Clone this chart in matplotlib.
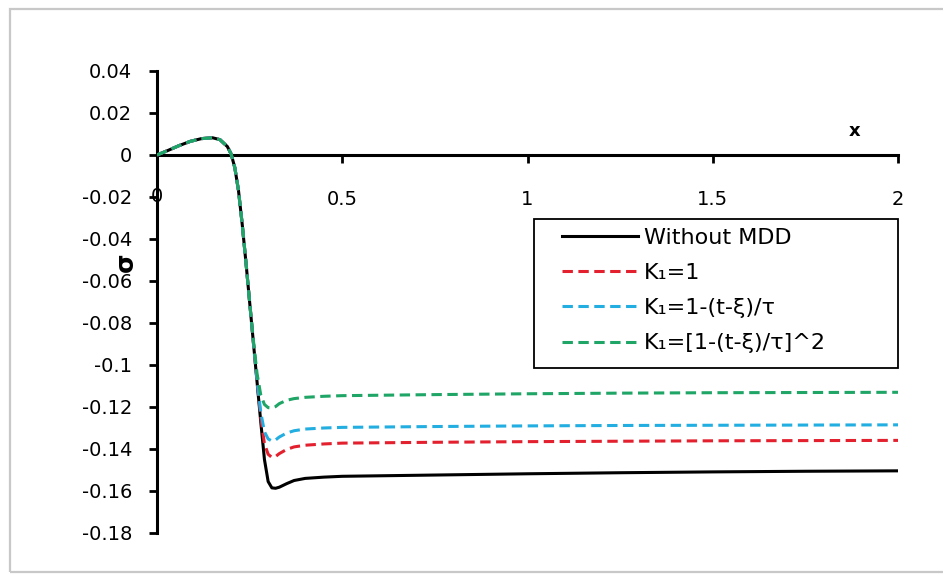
import matplotlib
matplotlib.use("Agg")
import matplotlib.pyplot as plt
from matplotlib.patches import Rectangle

# ---------------- data ----------------
x_black = [0, 0.03, 0.06, 0.09, 0.12, 0.15, 0.17, 0.19, 0.2, 0.21, 0.22, 0.23, 0.24, 0.25,
           0.26, 0.27, 0.28, 0.29, 0.30, 0.31, 0.32, 0.33, 0.35, 0.37, 0.40, 0.45, 0.5,
           0.75, 1.0, 1.25, 1.5, 1.75, 2.0]
y_black = [0, 0.0022, 0.0045, 0.0065, 0.0078, 0.0082, 0.0073, 0.0040, 0.0005, -0.0060, -0.0170,
           -0.0330, -0.0510, -0.0700, -0.0890, -0.1080, -0.1270, -0.1450, -0.1555, -0.1585,
           -0.1587, -0.1582, -0.1565, -0.1550, -0.1540, -0.1534, -0.1530, -0.1524, -0.1518,
           -0.1513, -0.1509, -0.1506, -0.1504]

x_red = [0, 0.03, 0.06, 0.09, 0.12, 0.15, 0.17, 0.19, 0.2, 0.21, 0.22, 0.23, 0.24, 0.25,
         0.26, 0.27, 0.28, 0.29, 0.30, 0.31, 0.32, 0.33, 0.35, 0.37, 0.40, 0.45, 0.5,
         0.75, 1.0, 1.25, 1.5, 1.75, 2.0]
y_red = [0, 0.0022, 0.0045, 0.0065, 0.0078, 0.0082, 0.0073, 0.0040, 0.0005, -0.0060, -0.0170,
         -0.0330, -0.0510, -0.0700, -0.0890, -0.1075, -0.1250, -0.1375, -0.1425, -0.1440,
         -0.1436, -0.1422, -0.1402, -0.1390, -0.1382, -0.1376, -0.1372, -0.1368, -0.1365,
         -0.1363, -0.1361, -0.1360, -0.1359]

x_blue = [0, 0.03, 0.06, 0.09, 0.12, 0.15, 0.17, 0.19, 0.2, 0.21, 0.22, 0.23, 0.24, 0.25,
          0.26, 0.27, 0.28, 0.29, 0.30, 0.31, 0.32, 0.33, 0.35, 0.37, 0.40, 0.45, 0.5,
          0.75, 1.0, 1.25, 1.5, 1.75, 2.0]
y_blue = [0, 0.0022, 0.0045, 0.0065, 0.0078, 0.0082, 0.0073, 0.0040, 0.0005, -0.0060, -0.0170,
          -0.0330, -0.0510, -0.0700, -0.0890, -0.1070, -0.1225, -0.1318, -0.1352, -0.1362,
          -0.1357, -0.1343, -0.1324, -0.1313, -0.1305, -0.1300, -0.1297, -0.1293, -0.1290,
          -0.1288, -0.1287, -0.1286, -0.1285]

x_green = [0, 0.03, 0.06, 0.09, 0.12, 0.15, 0.17, 0.19, 0.2, 0.21, 0.22, 0.23, 0.24, 0.25,
           0.26, 0.27, 0.28, 0.29, 0.30, 0.31, 0.32, 0.33, 0.35, 0.37, 0.40, 0.45, 0.5,
           0.75, 1.0, 1.25, 1.5, 1.75, 2.0]
y_green = [0, 0.0022, 0.0045, 0.0065, 0.0078, 0.0082, 0.0073, 0.0040, 0.0005, -0.0060, -0.0170,
           -0.0330, -0.0510, -0.0700, -0.0880, -0.1040, -0.1142, -0.1188, -0.1203, -0.1205,
           -0.1198, -0.1184, -0.1168, -0.1160, -0.1154, -0.1149, -0.1146, -0.1141, -0.1137,
           -0.1134, -0.1132, -0.1131, -0.1130]

labels = ["Without MDD", "K\u2081=1", "K\u2081=1-(t-\u03be)/\u03c4", "K\u2081=[1-(t-\u03be)/\u03c4]^2"]
x_ticks = [0.5, 1, 1.5, 2]
x_ticklabels = ["0.5", "1", "1.5", "2"]
y_ticks = [-0.18, -0.16, -0.14, -0.12, -0.1, -0.08, -0.06, -0.04, -0.02, 0, 0.02, 0.04]
y_ticklabels = ["-0.18", "-0.16", "-0.14", "-0.12", "-0.1", "-0.08", "-0.06", "-0.04",
                "-0.02", "0", "0.02", "0.04"]

# ---------------- figure ----------------
plt.rcParams['font.family'] = ['DejaVu Sans']
W, H = 943, 574
fig = plt.figure(figsize=(W / 100, H / 100), dpi=100)
fig.patch.set_facecolor("white")

# chart border (right side lies outside the image)
fig.patches.append(Rectangle((9.5 / W, (H - 572) / H), (960 - 9.5) / W, (572 - 8.5) / H,
                             transform=fig.transFigure, fill=False,
                             edgecolor="#C8C8C8", linewidth=1.6))

left, right, top, bottom = 157, 898, 71, 533
ax = fig.add_axes([left / W, 1 - bottom / H, (right - left) / W, (bottom - top) / H])
ax.set_xlim(0, 2)
ax.set_ylim(-0.18, 0.04)
ax.patch.set_alpha(0)


def fx(px):
    return (px - left) / (right - left)


def fy(py):
    return (bottom - py) / (bottom - top)


dash = (0, (3.4, 1.8))
ax.plot(x_black, y_black, color="black", lw=2.2, label=labels[0], zorder=3)
ax.plot(x_red, y_red, color="#E3202E", lw=2.2, ls=dash, label=labels[1], zorder=4)
ax.plot(x_blue, y_blue, color="#22AEE0", lw=2.2, ls=dash, label=labels[2], zorder=5)
ax.plot(x_green, y_green, color="#1FA566", lw=2.2, ls=dash, label=labels[3], zorder=6)

for s in ["top", "right"]:
    ax.spines[s].set_visible(False)
ax.spines["bottom"].set_position(("data", 0))
ax.spines["bottom"].set_linewidth(2.2)
ax.spines["left"].set_linewidth(2.2)
ax.spines["bottom"].set_zorder(2)

ax.set_xticks(x_ticks)
ax.set_xticklabels(x_ticklabels)
ax.set_yticks(y_ticks)
ax.set_yticklabels(y_ticklabels)
ax.tick_params(axis="both", direction="out", length=6, width=2, labelsize=14,
               colors="black")
ax.tick_params(axis="x", pad=19)
ax.tick_params(axis="y", pad=12)
# "0" label at the origin on the x axis
ax.text(0, -0.02, "0", ha="center", va="center", fontsize=14, zorder=1)

ax.set_xlabel("x", fontsize=13, fontweight="bold")
ax.xaxis.set_label_coords(fx(855), fy(122))
ax.set_ylabel("\u03c3", fontsize=18, fontweight="bold", rotation=90)
ax.yaxis.set_label_coords(fx(138), fy(262))

# legend frame
ax.add_patch(Rectangle((fx(534), fy(368)), fx(898) - fx(534), fy(219) - fy(368),
                       transform=ax.transAxes, facecolor="white", edgecolor="black",
                       linewidth=1.3, zorder=9, clip_on=False))
leg = ax.legend(loc="upper left", bbox_to_anchor=(fx(562), fy(228)),
                fontsize=16, frameon=False, handlelength=3.4, borderpad=0,
                borderaxespad=0, labelspacing=0.68, handletextpad=0.3)
leg.set_zorder(10)

fig.savefig("out.png", dpi=100, facecolor="white")
